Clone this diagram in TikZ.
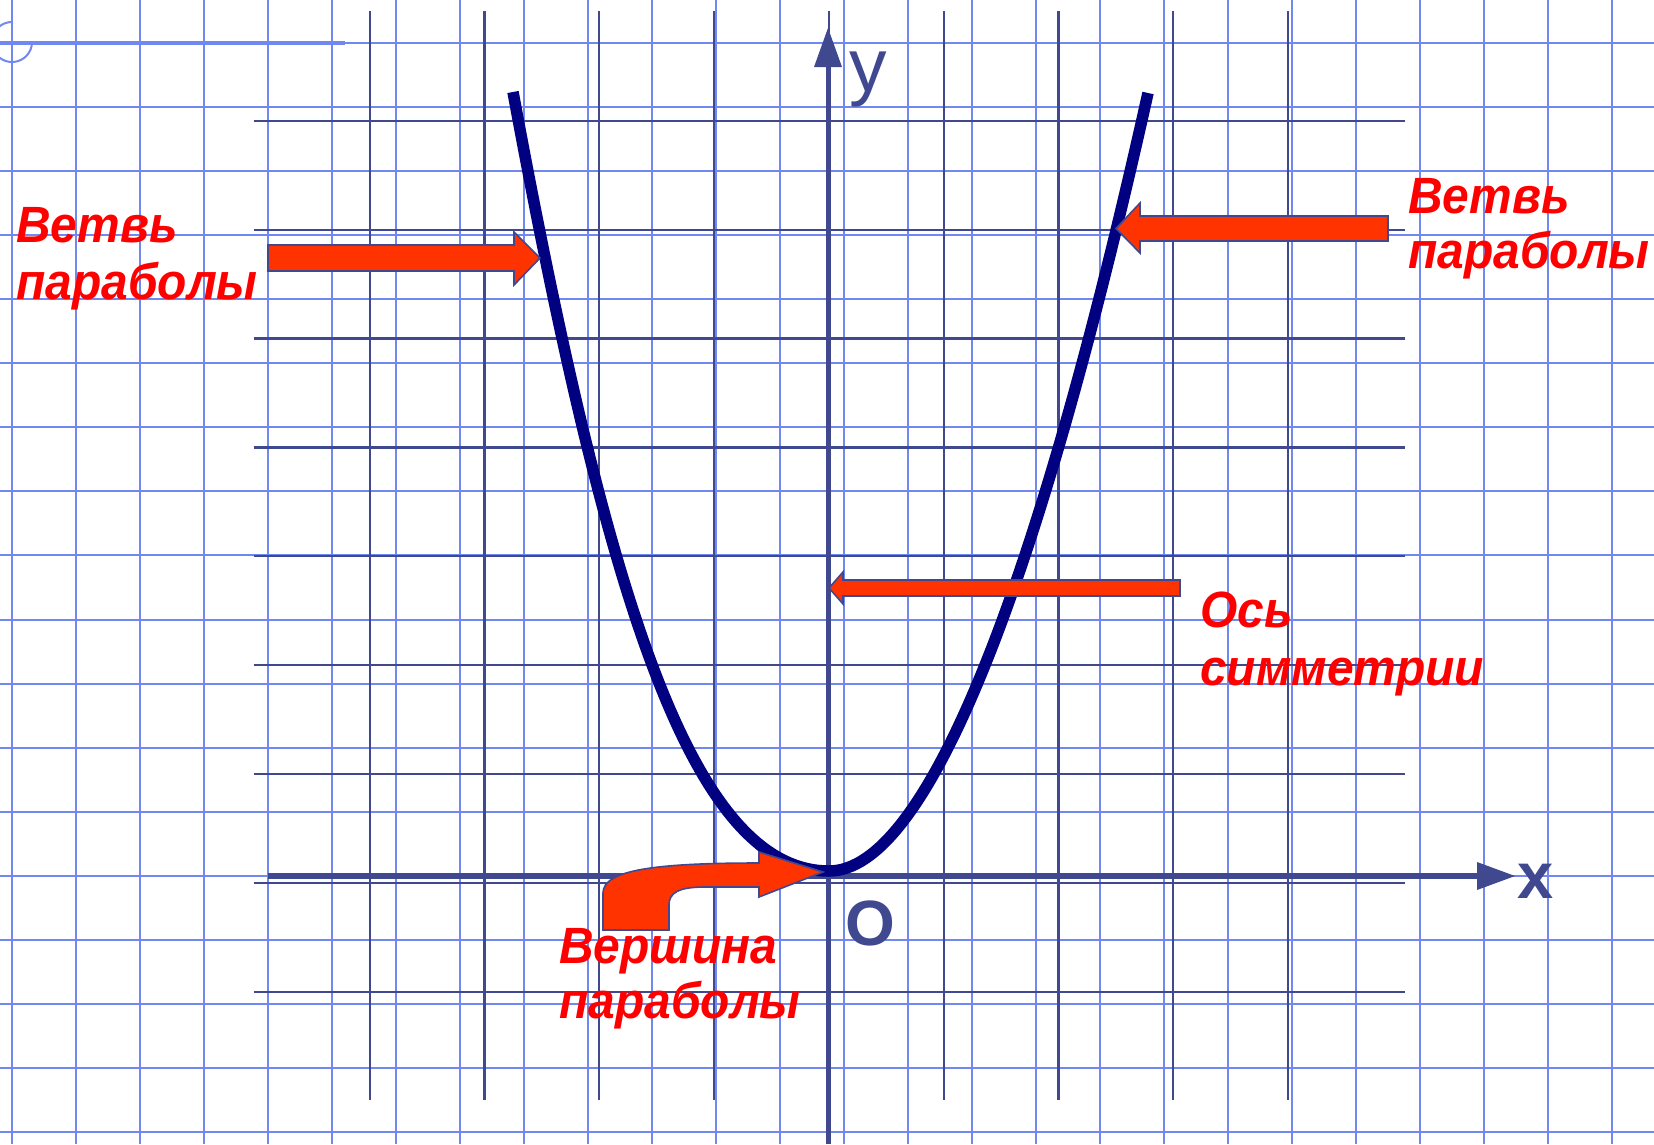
\documentclass[tikz,border=0pt]{standalone}
\usepackage{fontspec}
\setmainfont{Liberation Sans}
\newfontfamily\labelfont[FakeStretch=0.94]{Liberation Sans}
\definecolor{lightgrid}{HTML}{7088F0}
\definecolor{darkgrid}{HTML}{404890}
\definecolor{navycurve}{HTML}{000080}
\definecolor{arrowred}{HTML}{FF3300}
\definecolor{labelred}{HTML}{FF0000}
\begin{document}
\begin{tikzpicture}[x=1pt,y=-1pt,
  lgrid/.style={draw=lightgrid, line width=2pt},
  dgrid/.style={draw=darkgrid, line width=2.2pt},
  axisline/.style={draw=darkgrid},
  redarrow/.style={fill=arrowred, draw=darkgrid, line width=1.6pt, line join=miter},
  redlabel/.style={text=labelred, font=\labelfont\fontsize{51}{57}\selectfont\bfseries\itshape, inner sep=0pt, anchor=base west},
  axlabel/.style={text=darkgrid, inner sep=0pt, anchor=base west}
]
\useasboundingbox[fill=white] (0,0) rectangle (1654,1144);
% light grid
\foreach \k in {0,...,25} \draw[lgrid] ({12+64*\k},0) -- ({12+64*\k},1144);
\foreach \k in {0,...,17} \draw[lgrid] (0,{43+64.06*\k}) -- (1654,{43+64.06*\k});
\draw[lightgrid, line width=4pt] (0,42.5) -- (345,42.5);
\draw[lightgrid, line width=2pt] plot[domain=90:360,samples=40] ({12+20*cos(\x)},{42-20*sin(\x)});
% dark grid
\foreach \k in {0,...,8} \draw[dgrid] ({369.6+114.8*\k},11) -- ({369.6+114.8*\k},1100);
\foreach \k in {0,...,8} \draw[dgrid] (253.6,{120.7+108.9*\k}) -- (1405,{120.7+108.9*\k});
% axes
\coordinate (xstart) at (268,876);
\coordinate (xend) at (1477,876);
\coordinate (ystart) at (828,1144);
\coordinate (yend) at (828,67);
\draw[axisline, line width=6pt] (xstart) -- (xend);
\fill[darkgrid] (1477,862) -- (1515,876) -- (1477,890) -- cycle;
\draw[axisline, line width=5pt] (ystart) -- (yend);
\fill[darkgrid] (814,67) -- (828,28) -- (842,67) -- cycle;
\node[axlabel, font=\fontsize{75}{75}\selectfont] (ylab) at (849,91) {y};
\node[axlabel, font=\fontsize{65}{65}\selectfont\bfseries] (xlab) at (1517,898) {x};
\node[axlabel, font=\fontsize{64}{64}\selectfont\bfseries] (olab) at (845,945) {O};
% parabola
\draw[navycurve, line width=11.5pt] (513,92) .. controls (605,590) and (690,871) .. (829,871) .. controls (925,871) and (1035,600) .. (1148,93);
% red arrows
\draw[redarrow] (268,245) -- (514,245) -- (514,232) -- (540,258) -- (514,285) -- (514,271) -- (268,271) -- cycle;
\draw[redarrow] (1388,216) -- (1140,216) -- (1140,203) -- (1116,228.5) -- (1140,253) -- (1140,241) -- (1388,241) -- cycle;
\draw[redarrow] (1180,580) -- (843,580) -- (843,572) -- (829,588) -- (843,604) -- (843,596) -- (1180,596) -- cycle;
\draw[redarrow] (603,930) -- (603,893) .. controls (603,870) and (655,863) .. (759,863) -- (759,852) -- (823,872) -- (759,897) -- (759,887) -- (705,887) .. controls (678,887) and (669,893) .. (669,905) -- (669,930) -- cycle;
% labels
\node[redlabel] (lb1) at (16,242) {Ветвь};
\node[redlabel] (lb2) at (16,299) {параболы};
\node[redlabel] (rb1) at (1408,213) {Ветвь};
\node[redlabel] (rb2) at (1408,268) {параболы};
\node[redlabel] (os1) at (1200,627) {Ось};
\node[redlabel] (os2) at (1200,685) {симметрии};
\node[redlabel] (v1) at (559,963) {Вершина};
\node[redlabel] (v2) at (559,1018) {параболы};
\end{tikzpicture}
\end{document}
